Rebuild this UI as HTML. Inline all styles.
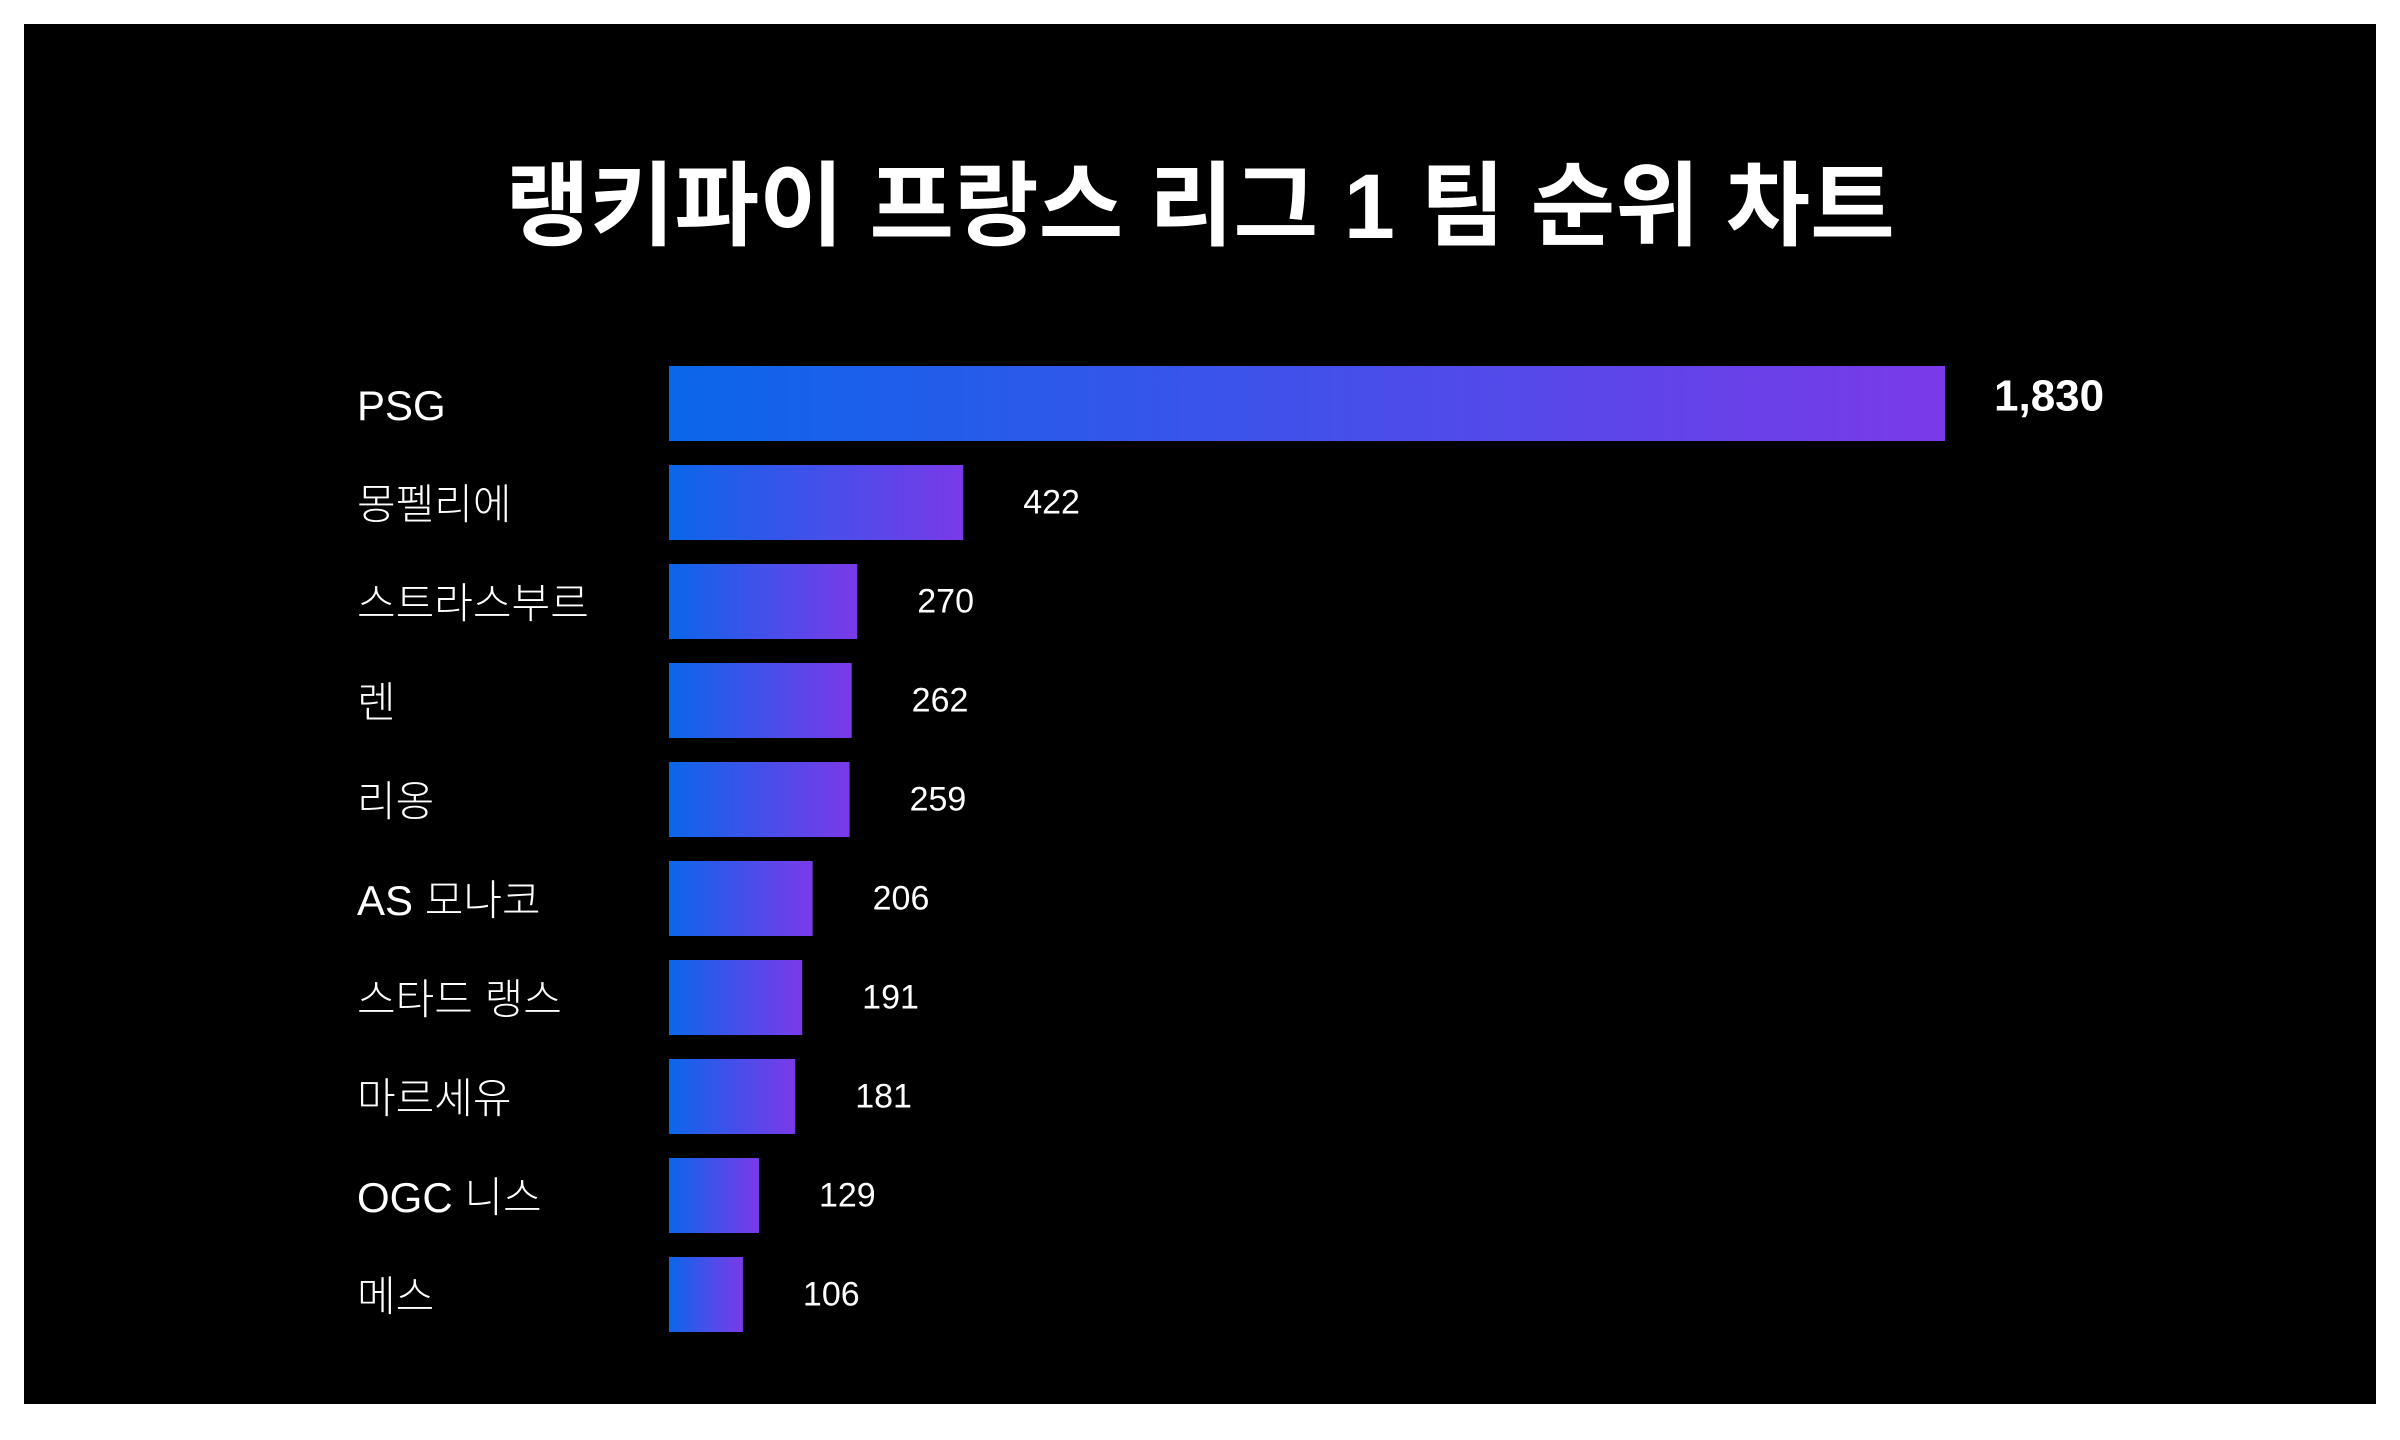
<!DOCTYPE html>
<html><head><meta charset="utf-8"><style>
html,body{margin:0;padding:0;background:#fff;}
svg{display:block;}
</style></head><body>
<svg width="2400" height="1440" viewBox="0 0 2400 1440" xmlns="http://www.w3.org/2000/svg">
<defs>
<linearGradient id="barGrad" x1="0" y1="0" x2="1" y2="0">
<stop offset="0" stop-color="#0b66ea"/>
<stop offset="1" stop-color="#7a3ae9"/>
</linearGradient>
</defs>
<rect x="0" y="0" width="2400" height="1440" fill="#ffffff"/>
<rect x="24" y="24" width="2352" height="1380" fill="#000000"/>
<text x="1200" y="207" text-anchor="middle" dominant-baseline="central" fill="#ffffff" font-family="'Liberation Sans','Noto Sans CJK KR',sans-serif" font-weight="700" font-size="92">랭키파이 프랑스 리그 1 팀 순위 차트</text>
<g id="bars"></g>
</svg>
<script>
const categories = ["PSG","몽펠리에","스트라스부르","렌","리옹","AS 모나코","스타드 랭스","마르세유","OGC 니스","메스"];
const values = [1830,422,270,262,259,206,191,181,129,106];
const valueLabels = ["1,830","422","270","262","259","206","191","181","129","106"];

const ns = "http://www.w3.org/2000/svg";
const g = document.getElementById("bars");
const x0 = 669, xMaxPx = 1276, maxVal = 1830;
const y0 = 366, pitch = 99, barH = 75;
function xScale(v){ return xMaxPx * v / maxVal; }
function yScale(i){ return y0 + i * pitch; }
categories.forEach((c, i) => {
  const y = yScale(i);
  const w = xScale(values[i]);
  const r = document.createElementNS(ns, "rect");
  r.setAttribute("x", x0); r.setAttribute("y", y);
  r.setAttribute("width", w); r.setAttribute("height", barH);
  r.setAttribute("fill", "url(#barGrad)");
  
  
  g.appendChild(r);
  const l = document.createElementNS(ns, "text");
  l.setAttribute("x", 357); l.setAttribute("y", y + barH / 2 + 2);
  l.setAttribute("dominant-baseline", "central");
  l.setAttribute("fill", "#ffffff");
  l.setAttribute("font-family", "'Liberation Sans','Noto Sans CJK KR',sans-serif");
  l.setAttribute("font-weight", "300");
  l.setAttribute("font-size", "42");
  l.textContent = c;
  
  
  g.appendChild(l);
  const t = document.createElementNS(ns, "text");
  const first = i === 0;
  t.setAttribute("x", x0 + w + (first ? 49 : 60));
  t.setAttribute("y", first ? y + 30 : y + barH / 2);
  t.setAttribute("dominant-baseline", "central");
  t.setAttribute("fill", "#ffffff");
  t.setAttribute("font-family", "'Liberation Sans','Noto Sans CJK KR',sans-serif");
  t.setAttribute("font-weight", first ? "700" : "400");
  t.setAttribute("font-size", first ? "44" : "34");
  t.textContent = valueLabels[i];
  
  
  g.appendChild(t);
});
</script>
</body></html>
